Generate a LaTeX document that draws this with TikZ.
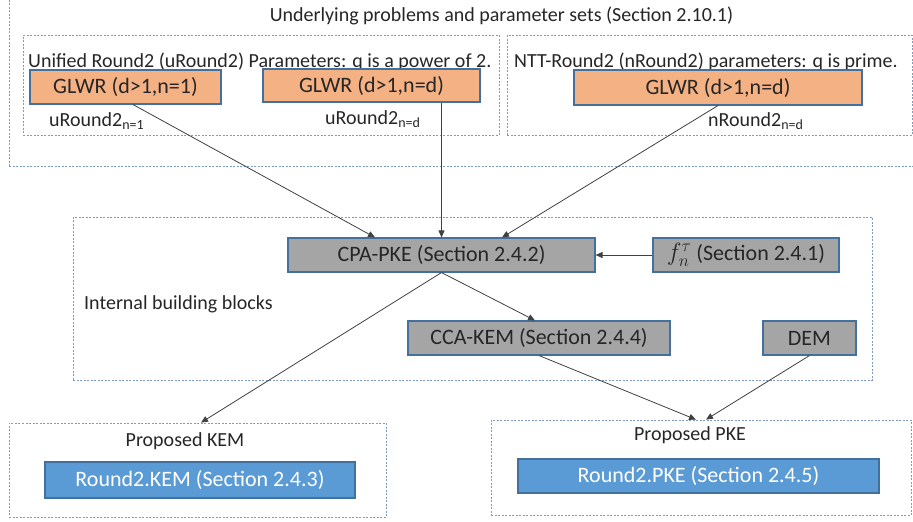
\documentclass[tikz,border=0pt]{standalone}
\usepackage{fontspec}
\setmainfont{Carlito}
\usetikzlibrary{arrows.meta}
\definecolor{edgeBlue}{HTML}{41719C}
\definecolor{groupLine}{HTML}{7F9CC0}
\definecolor{glwrFill}{HTML}{F4B183}
\definecolor{blockFill}{HTML}{A5A5A5}
\definecolor{schemeFill}{HTML}{5B9BD5}
\definecolor{connGray}{HTML}{404040}
\begin{document}
\begin{tikzpicture}[x=1pt, y=-1pt,
    group/.style={draw=groupLine, dash pattern=on 2pt off 1.5pt, line width=0.8pt, inner sep=0pt},
    label/.style={font=\fontsize{20}{24}\selectfont, text=black!85, inner sep=0pt},
    glwrBox/.style={draw=edgeBlue, line width=1.1pt, fill=glwrFill, minimum height=34pt, inner sep=0pt, font=\fontsize{22}{26}\selectfont, text=black!85},
    blockBox/.style={draw=edgeBlue, line width=1.1pt, fill=blockFill, minimum height=34pt, inner sep=0pt, font=\fontsize{22}{26}\selectfont, text=black!85},
    schemeBox/.style={draw=edgeBlue, line width=1.1pt, fill=schemeFill, minimum height=35pt, inner sep=0pt, font=\fontsize{22}{26}\selectfont, text=white},
    conn/.style={draw=connGray, line width=0.8pt, -{Triangle[length=7pt, width=6pt]}}
  ]
  \path[use as bounding box, clip] (0,0) rectangle (913,522);

  % Underlying problems
  \node[group, minimum width=921pt, minimum height=186pt] (top) at (469.5,73) {};
  \node[label] (toptitle) at (501.5,16) {Underlying problems and parameter sets (Section 2.10.1)};
  \node[group, minimum width=476pt, minimum height=100pt] (uni) at (261,85) {};
  \node[label, anchor=west] (unititle) at (28,62) {Unified Round2 (uRound2) Parameters: q is a power of 2.};
  \node[group, minimum width=405pt, minimum height=100pt] (ntt) at (709.5,85) {};
  \node[label, anchor=west] (ntttitle) at (514,62) {NTT-Round2 (nRound2) parameters: q is prime.};
  \node[glwrBox, minimum width=191pt] (g1) at (125.5,87) {GLWR (d>1,n=1)};
  \node[glwrBox, minimum width=217pt, minimum height=33pt] (g2) at (371.5,85.5) {GLWR (d>1,n=d)};
  \node[glwrBox, minimum width=288pt, minimum height=35pt] (g3) at (718,87.5) {GLWR (d>1,n=d)};
  \node[label, anchor=west] (u1) at (49,121) {uRound2\textsubscript{n=1}};
  \node[label, anchor=west] (ud) at (325,119) {uRound2\textsubscript{n=d}};
  \node[label, anchor=west] (nd) at (708,121) {nRound2\textsubscript{n=d}};

  % Internal building blocks
  \node[group, minimum width=799pt, minimum height=163pt] (blocks) at (472.5,298.5) {};
  \node[label, anchor=west] (blockstitle) at (84,304) {Internal building blocks};
  \node[blockBox, minimum width=307pt] (cpa) at (441.5,255) {CPA-PKE (Section 2.4.2)};
  \node[blockBox, minimum width=186pt] (ftau) at (746,255) {{\fontsize{27}{30}\selectfont$f_n^{\tau}$} (Section 2.4.1)};
  \node[blockBox, minimum width=262pt] (cca) at (539,338) {CCA-KEM (Section 2.4.4)};
  \node[blockBox, minimum width=93pt] (dem) at (809.5,338) {DEM};

  % Proposed schemes
  \node[group, minimum width=377pt, minimum height=94pt] (kemgrp) at (197.5,470) {};
  \node[label] (kemtitle) at (185,441) {Proposed KEM};
  \node[schemeBox, minimum width=310pt, minimum height=36pt] (kem) at (200,480) {Round2.KEM (Section 2.4.3)};
  \node[group, minimum width=420pt, minimum height=95pt] (pkegrp) at (701,467.5) {};
  \node[label] (pketitle) at (690,435) {Proposed PKE};
  \node[schemeBox, minimum width=361pt, minimum height=34pt] (pke) at (698.5,476) {Round2.PKE (Section 2.4.5)};

  % Connectors
  \draw[conn] ([xshift=7.5]g1.south) -- ([xshift=-66.5]cpa.north);
  \draw[conn] (cpa.north |- g2.south) -- (cpa.north);
  \draw[conn] (g3.south) -- ([xshift=60.5]cpa.north);
  \draw[conn] (ftau.west) -- (cpa.east);
  \draw[conn] (cpa.south) -- ([xshift=3.5]kemgrp.north);
  \draw[conn] (cpa.south) -- ([xshift=-4]cca.north);
  \draw[conn] (cca.south) -- ([xshift=-5]pkegrp.north);
  \draw[conn] (dem.south) -- ([xshift=5]pkegrp.north);
\end{tikzpicture}
\end{document}
